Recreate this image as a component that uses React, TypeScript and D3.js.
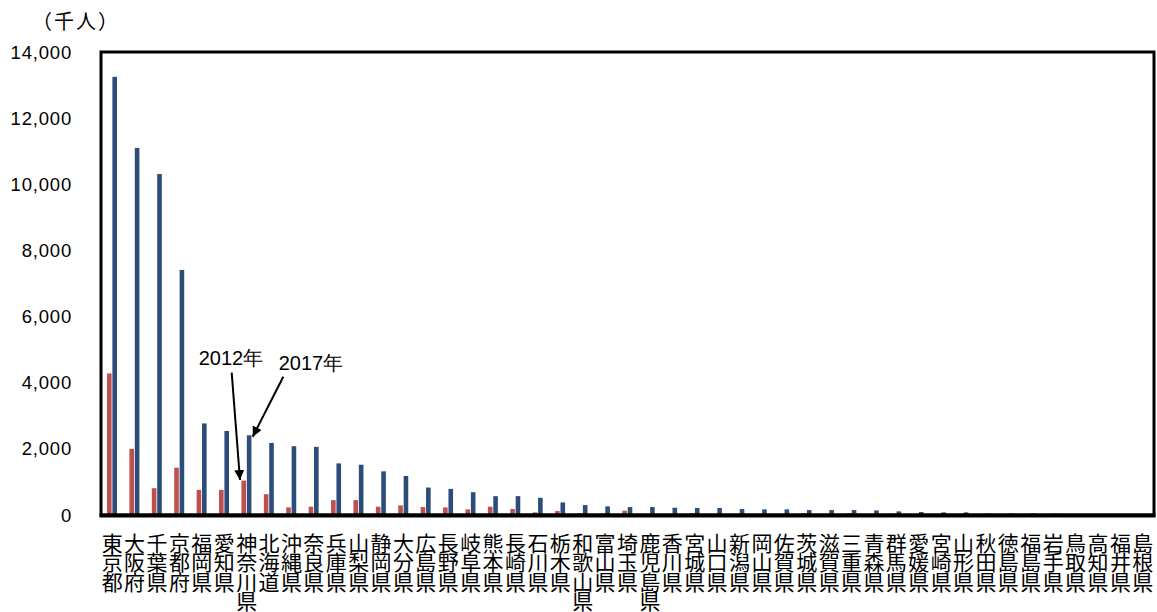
import React from "react";
import * as d3 from "d3";

const prefectures = ["東京都","大阪府","千葉県","京都府","福岡県","愛知県","神奈川県","北海道","沖縄県","奈良県","兵庫県","山梨県","静岡県","大分県","広島県","長野県","岐阜県","熊本県","長崎県","石川県","栃木県","和歌山県","富山県","埼玉県","鹿児島県","香川県","宮城県","山口県","新潟県","岡山県","佐賀県","茨城県","滋賀県","三重県","青森県","群馬県","愛媛県","宮崎県","山形県","秋田県","徳島県","福島県","岩手県","鳥取県","高知県","福井県","島根県"];
const values2012 = [4280,2000,810,1430,760,760,1040,630,230,250,450,450,250,290,240,230,170,250,180,80,120,50,40,130,10,10,50,10,20,20,10,60,10,50,10,40,10,10,10,10,10,30,10,10,10,10,10];
const values2017 = [13250,11100,10310,7410,2770,2540,2410,2180,2080,2060,1560,1520,1320,1180,830,790,690,570,570,520,380,300,260,240,240,220,210,210,180,170,170,150,150,150,140,110,90,80,80,50,50,50,40,30,30,30,20];
const yTicks = [0,2000,4000,6000,8000,10000,12000,14000];
const unitLabel = "（千人）";
const label2012 = "2012年";
const label2017 = "2017年";

const W = 1157, H = 612;
const LEFT = 101, RIGHT = 1154, TOP = 52, BOTTOM = 515;
const RED = "#C0504D", BLUE = "#2C4D7A";
const LATIN = "'Liberation Sans', Arial, sans-serif";
const CJK = "'Noto Sans CJK JP', sans-serif";

export default function App() {
  const x = d3.scaleBand<string>().domain(prefectures).range([LEFT, RIGHT]).padding(0);
  const y = d3.scaleLinear().domain([0, 14000]).range([BOTTOM, TOP]);
  const bw = 4.6;
  const fmt = d3.format(",");
  const center = (p: string) => (x(p) as number) + x.bandwidth() / 2;

  return (
    <svg width={W} height={H} style={{ position: "absolute", left: 0, top: 0, background: "#fff" }}>
      <defs>
        <marker id="ah" viewBox="0 0 10 10" refX="10" refY="5" markerWidth="5" markerHeight="5" markerUnits="strokeWidth" orient="auto">
          <path d="M0,0 L10,5 L0,10 z" fill="#000" />
        </marker>
      </defs>
      <rect x={0} y={0} width={W} height={H} fill="#fff" />
      <text x={76} y={20} textAnchor="middle" dominantBaseline="central" fontFamily={CJK} fontSize={20} letterSpacing={2} fill="#000">{unitLabel}</text>
      {yTicks.map((t) => (
        <text key={t} x={72} y={y(t)} textAnchor="end" dominantBaseline="central" fontFamily={LATIN} fontSize={18.5} letterSpacing={0.8} fill="#000">{fmt(t)}</text>
      ))}
      {prefectures.map((p, i) => (
        <g key={p}>
          <rect x={center(p) - bw - 0.6} y={y(values2012[i])} width={bw} height={BOTTOM - y(values2012[i])} fill={RED} />
          <rect x={center(p) + 0.2} y={y(values2017[i])} width={bw} height={BOTTOM - y(values2017[i])} fill={BLUE} />
        </g>
      ))}
      <rect x={LEFT} y={TOP} width={RIGHT - LEFT} height={BOTTOM - TOP} fill="none" stroke="#000" strokeWidth={3} />
      <line x1={LEFT - 1.5} x2={RIGHT + 1.5} y1={BOTTOM + 0.5} y2={BOTTOM + 0.5} stroke="#000" strokeWidth={4} />
      {prefectures.map((p) => (
        <text key={"l" + p} fontFamily={CJK} fontSize={21} fill="#000" textAnchor="middle">
          {Array.from(p).map((c, k) => (
            <tspan key={k} x={center(p)} y={541.5 + k * 19.5} dominantBaseline="central">{c}</tspan>
          ))}
        </text>
      ))}
      <text x={231} y={358} textAnchor="middle" dominantBaseline="central" fontFamily={LATIN} fontSize={20} fill="#000">{label2012}</text>
      <text x={311} y={363} textAnchor="middle" dominantBaseline="central" fontFamily={LATIN} fontSize={20} fill="#000">{label2017}</text>
      <line x1={231.7} y1={372.7} x2={240} y2={480} stroke="#000" strokeWidth={2} markerEnd="url(#ah)" />
      <line x1={283.3} y1={376.7} x2={252.7} y2={436.7} stroke="#000" strokeWidth={2} markerEnd="url(#ah)" />
    </svg>
  );
}
